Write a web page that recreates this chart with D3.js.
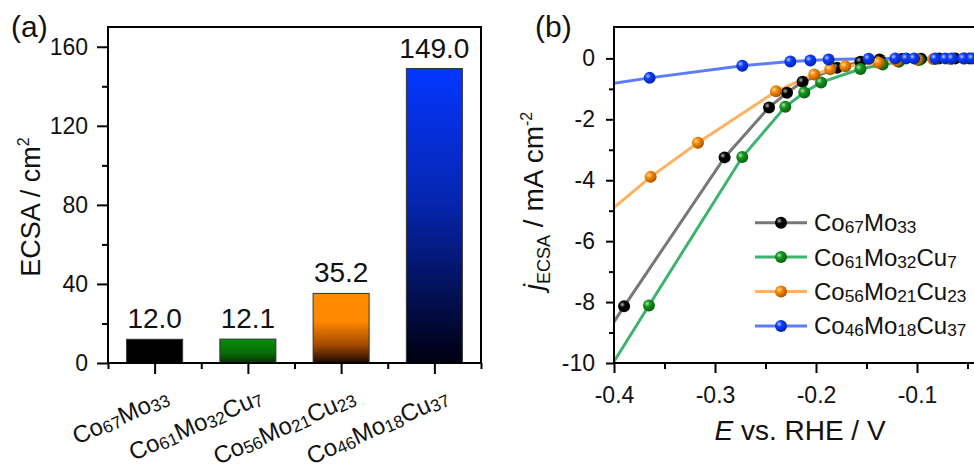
<!DOCTYPE html>
<html>
<head>
<meta charset="utf-8">
<script src="https://cdn.jsdelivr.net/npm/d3@7"></script>
<style>
  body { margin: 0; background: #fff; }
  svg { font-family: "Liberation Sans", Arial, sans-serif; display: block; }
</style>
</head>
<body>
<svg width="974" height="466"></svg>
<script>
// data
var categories = ["Co67Mo33", "Co61Mo32Cu7", "Co56Mo21Cu23", "Co46Mo18Cu37"];
var ecsa = [12.0, 12.1, 35.2, 149.0];
var yTicksA = [0, 40, 80, 120, 160];
var yMinorA = [20, 60, 100, 140];
var yTicksB = [0, -2, -4, -6, -8, -10];
var yMinorB = [-1, -3, -5, -7, -9];
var xTicksB = [-0.4, -0.3, -0.2, -0.1];
var xMinorB = [-0.35, -0.25, -0.15, -0.05];

// LSV points [E, j]
var co67 = [[-0.390,-8.14],[-0.2905,-3.25],[-0.2465,-1.61],[-0.2287,-1.13],[-0.2133,-0.77],[-0.1792,-0.31],
  [-0.156,-0.11],[-0.137,-0.04],[-0.115,-0.02],[-0.096,-0.01],[-0.078,0],[-0.062,0],[-0.048,0],[-0.035,0]];
var co61 = [[-0.3654,-8.11],[-0.273,-3.24],[-0.2304,-1.59],[-0.2116,-1.12],[-0.195,-0.79],[-0.156,-0.35],
  [-0.134,-0.2],[-0.118,-0.11],[-0.098,-0.05],[-0.082,-0.02],[-0.066,-0.01],[-0.052,0],[-0.038,0]];
var co56 = [[-0.3637,-3.89],[-0.3169,-2.77],[-0.2396,-1.08],[-0.2017,-0.53],[-0.1859,-0.36],[-0.171,-0.26],
  [-0.138,-0.14],[-0.12,-0.08],[-0.1,-0.04],[-0.084,-0.02],[-0.068,-0.01],[-0.054,0],[-0.04,0]];
var co46 = [[-0.3647,-0.64],[-0.273,-0.24],[-0.2254,-0.1],[-0.2056,-0.07],[-0.1875,-0.04],[-0.1479,-0.01],
  [-0.1215,0],[-0.1106,0],[-0.1029,0],[-0.0819,0],[-0.072,0],[-0.0653,0],[-0.0539,0],[-0.0455,0],[-0.035,0]];
// j where each curve enters at E = -0.4
var startJ = [-8.65, -9.95, -4.9, -0.82];
var seriesData = [co67, co61, co56, co46];

var lineColors = ["#777777", "#3cb46e", "#ffb060", "#5b7cff"];
var dotColors = ["#000000", "#12981a", "#ff8a00", "#0a3cff"];

var svg = d3.select("svg");
var defs = svg.append("defs");

// bar gradients
var barGrads = [
  [[0, "#000"], [1, "#000"]],
  [[0, "#0a8c0a"], [0.55, "#087008"], [1, "#053005"]],
  [[0, "#ff8c00"], [0.4, "#ff8800"], [0.75, "#a04800"], [1, "#1a0800"]],
  [[0, "#0436ff"], [0.45, "#0626b0"], [1, "#000010"]]
];
barGrads.forEach((stops, i) => {
  var g = defs.append("linearGradient").attr("id", "bar" + i)
    .attr("x1", 0).attr("y1", 0).attr("x2", 0).attr("y2", 1);
  stops.forEach(s => g.append("stop").attr("offset", s[0]).attr("stop-color", s[1]));
});
dotColors.forEach((c, i) => {
  var g = defs.append("radialGradient").attr("id", "dot" + i)
    .attr("cx", "35%").attr("cy", "35%").attr("r", "70%");
  g.append("stop").attr("offset", 0).attr("stop-color", d3.interpolateRgb(c, "#fff")(0.7));
  g.append("stop").attr("offset", 0.35).attr("stop-color", c);
  g.append("stop").attr("offset", 1).attr("stop-color", d3.interpolateRgb(c, "#000")(0.4));
});

function formula(sel, str, size) {
  var parts = str.match(/[A-Za-z]+|\d+/g);
  var sub = false;
  parts.forEach(p => {
    var t = sel.append("tspan").text(p);
    if (/\d/.test(p)) {
      t.attr("font-size", size * 0.72).attr("dy", sub ? 0 : 2);
      sub = true;
    } else {
      t.attr("font-size", size).attr("dy", sub ? -2 : 0);
      sub = false;
    }
  });
}

function styleAxis(g) {
  g.selectAll("path.domain").remove();
  g.selectAll("line").attr("stroke", "#000").attr("stroke-width", 2);
  g.selectAll("text").attr("font-size", 23).attr("fill", "#111")
    .attr("font-family", "Liberation Sans, Arial, sans-serif");
}

// ---------- panel (a)
var xa = d3.scaleLinear().domain([0.5, 4.5]).range([108, 481]);
var ya = d3.scaleLinear().domain([0, 170]).range([363, 27]);

svg.append("g").selectAll("rect")
  .data(ecsa)
  .join("rect")
  .attr("x", (d, i) => xa(i + 1) - 28)
  .attr("width", 56)
  .attr("y", d => ya(d))
  .attr("height", d => ya(0) - ya(d))
  .attr("fill", (d, i) => "url(#bar" + i + ")")
  .attr("stroke", "#333").attr("stroke-width", 1);

svg.append("g").selectAll("text")
  .data(ecsa)
  .join("text")
  .attr("x", (d, i) => xa(i + 1))
  .attr("y", d => ya(d) - 11)
  .attr("text-anchor", "middle")
  .attr("font-size", 28)
  .attr("fill", "#111")
  .text(d => d.toFixed(1));

svg.append("g").attr("transform", "translate(108,0)")
  .call(d3.axisLeft(ya).tickValues(yTicksA).tickSize(11).tickPadding(9).tickFormat(d => d))
  .call(styleAxis);
svg.append("g").attr("transform", "translate(108,0)")
  .call(d3.axisLeft(ya).tickValues(yMinorA).tickSize(6).tickFormat(""))
  .call(styleAxis);
svg.append("g").attr("transform", "translate(0,363)")
  .call(d3.axisBottom(xa).tickValues([1, 2, 3, 4]).tickSize(11).tickFormat(""))
  .call(styleAxis);
svg.append("g").attr("transform", "translate(0,363)")
  .call(d3.axisBottom(xa).tickValues([0.5, 1.5, 2.5, 3.5, 4.5]).tickSize(6).tickFormat(""))
  .call(styleAxis);

svg.append("rect")
  .attr("x", 108).attr("y", 27).attr("width", 373).attr("height", 336)
  .attr("fill", "none").attr("stroke", "#000").attr("stroke-width", 2);

categories.forEach((c, i) => {
  var t = svg.append("text")
    .attr("text-anchor", "end")
    .attr("fill", "#111")
    .attr("transform", "translate(" + (xa(i + 1) + 16) + ",403) rotate(-24)");
  formula(t, c, 24);
});

var yla = svg.append("text")
  .attr("transform", "translate(40,207) rotate(-90)")
  .attr("text-anchor", "middle").attr("font-size", 27).attr("fill", "#111");
yla.append("tspan").text("ECSA / cm");
yla.append("tspan").attr("font-size", 16).attr("dy", -11).text("2");

svg.append("text").attr("x", 11).attr("y", 37).attr("font-size", 30).attr("fill", "#111").text("(a)");

// ---------- panel (b)
var xb = d3.scaleLinear().domain([-0.4, 0]).range([614, 1018]);
var yb = d3.scaleLinear().domain([-10, 1.03]).range([363, 27]);

defs.append("clipPath").attr("id", "clipB")
  .append("rect").attr("x", 614).attr("y", 27).attr("width", 404).attr("height", 336);

var line = d3.line().x(d => xb(d[0])).y(d => yb(d[1]));
var plot = svg.append("g").attr("clip-path", "url(#clipB)");

seriesData.forEach((pts, i) => {
  plot.append("path")
    .datum([[-0.4, startJ[i]]].concat(pts))
    .attr("d", line)
    .attr("fill", "none")
    .attr("stroke", lineColors[i])
    .attr("stroke-width", 3);
});
seriesData.forEach((pts, i) => {
  plot.append("g").selectAll("circle")
    .data(pts)
    .join("circle")
    .attr("cx", d => xb(d[0]))
    .attr("cy", d => yb(d[1]))
    .attr("r", 6)
    .attr("fill", "url(#dot" + i + ")");
});

svg.append("g").attr("transform", "translate(614,0)")
  .call(d3.axisLeft(yb).tickValues(yTicksB).tickSize(8).tickPadding(11).tickFormat(d => String(d)))
  .call(styleAxis);
svg.append("g").attr("transform", "translate(614,0)")
  .call(d3.axisLeft(yb).tickValues(yMinorB).tickSize(5).tickFormat(""))
  .call(styleAxis);
svg.append("g").attr("transform", "translate(0,363)")
  .call(d3.axisBottom(xb).tickValues(xTicksB).tickSize(10).tickPadding(14).tickFormat(d => String(d)))
  .call(styleAxis);
svg.append("g").attr("transform", "translate(0,363)")
  .call(d3.axisBottom(xb).tickValues(xMinorB).tickSize(6).tickFormat(""))
  .call(styleAxis);

svg.append("path")
  .attr("d", "M980,27H614V363H980")
  .attr("fill", "none").attr("stroke", "#000").attr("stroke-width", 2);

// legend
var leg = svg.append("g");
categories.forEach((c, i) => {
  var y = 222.7 + i * 34.4;
  leg.append("line").attr("x1", 755).attr("x2", 807).attr("y1", y).attr("y2", y)
    .attr("stroke", lineColors[i]).attr("stroke-width", 3);
  leg.append("circle").attr("cx", 781).attr("cy", y).attr("r", 6).attr("fill", "url(#dot" + i + ")");
  var t = leg.append("text").attr("x", 814).attr("y", y + 8.5).attr("fill", "#111");
  formula(t, c, 24);
});

var ylb = svg.append("text")
  .attr("transform", "translate(543,201) rotate(-90)")
  .attr("text-anchor", "middle").attr("font-size", 28).attr("fill", "#111");
ylb.append("tspan").attr("font-style", "italic").text("j");
ylb.append("tspan").attr("font-size", 18).attr("dy", 7).text("ECSA");
ylb.append("tspan").attr("dy", -7).text(" / mA cm");
ylb.append("tspan").attr("font-size", 16).attr("dy", -11).text("-2");

var xlb = svg.append("text")
  .attr("x", 800).attr("y", 440)
  .attr("text-anchor", "middle").attr("font-size", 28).attr("fill", "#111");
xlb.append("tspan").attr("font-style", "italic").text("E");
xlb.append("tspan").text(" vs. RHE / V");

svg.append("text").attr("x", 535).attr("y", 37).attr("font-size", 30).attr("fill", "#111").text("(b)");
</script>
</body>
</html>
